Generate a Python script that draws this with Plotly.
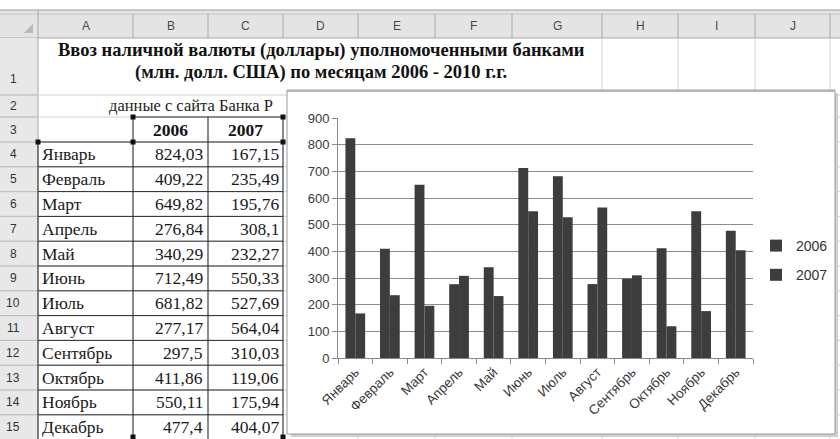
import plotly.graph_objects as go

# ---------------- data ----------------
months = ["Январь", "Февраль", "Март", "Апрель", "Май", "Июнь",
          "Июль", "Август", "Сентябрь", "Октябрь", "Ноябрь", "Декабрь"]
v2006 = [824.03, 409.22, 649.82, 276.84, 340.29, 712.49,
         681.82, 277.17, 297.5, 411.86, 550.11, 477.4]
v2007 = [167.15, 235.49, 195.76, 308.1, 232.27, 550.33,
         527.69, 564.04, 310.03, 119.06, 175.94, 404.07]
series_names = ["2006", "2007"]
col_letters = ["A", "B", "C", "D", "E", "F", "G", "H", "I", "J"]
title_lines = ["Ввоз наличной валюты (доллары) уполномоченными банками",
               "(млн. долл. США) по месяцам 2006 - 2010 г.г."]
source_text = "данные с сайта Банка Р"

# ---------------- layout geometry (pixels) ----------------
W, H = 840, 439
col_edges = [38, 133, 208, 283, 358, 435, 512, 602, 678, 755, 830]
row_edges = [38, 95, 117, 142] + [142 + 24.8 * k for k in range(1, 13)]
HDR_TOP, HDR_BOT = 10, 38


def px(x):
    return x / W


def py(y):
    return 1 - y / H


shapes = []
annotations = []


def rect(x0, y0, x1, y1, fill, line=None, lw=0):
    shapes.append(dict(type="rect", xref="paper", yref="paper",
                       x0=px(x0), x1=px(x1), y0=py(y0), y1=py(y1),
                       fillcolor=fill, layer="below",
                       line=dict(color=line or fill, width=lw)))


def line(x0, y0, x1, y1, color, lw=1):
    shapes.append(dict(type="line", xref="paper", yref="paper",
                       x0=px(x0), x1=px(x1), y0=py(y0), y1=py(y1),
                       layer="below", line=dict(color=color, width=lw)))


def text(x, y, s, size=12, color="#222", family="Liberation Serif", anchor="center"):
    annotations.append(dict(xref="paper", yref="paper", x=px(x), y=py(y),
                            text=s, showarrow=False, xanchor=anchor, yanchor="middle",
                            font=dict(size=size, color=color, family=family)))


GRID = "#d2d2d2"
HDRLINE = "#a8a8a8"
DARK = "#2a2a2a"

# header row & row-number column
rect(0, HDR_TOP, W, HDR_BOT, "#e4e4e4")
line(0, HDR_TOP, W, HDR_TOP, "#9a9a9a")
line(0, HDR_TOP + 4, W, HDR_TOP + 4, "#c4c4c4")
line(0, HDR_BOT, W, HDR_BOT, HDRLINE)
rect(0, HDR_BOT, col_edges[0], H, "#e8e8e8")
line(col_edges[0], HDR_TOP, col_edges[0], H, HDRLINE)
for xe in col_edges[1:]:
    line(xe, HDR_TOP + 4, xe, HDR_BOT, HDRLINE)
# corner triangle
shapes.append(dict(type="path", xref="paper", yref="paper", layer="below",
                   path=f"M {px(33)},{py(24)} L {px(33)},{py(33)} L {px(24)},{py(33)} Z",
                   fillcolor="#b8b8b8", line=dict(width=0)))

# cell gridlines
for ye in row_edges[1:]:
    line(0, ye, W, ye, GRID)
for xe in col_edges[1:]:
    # rows 1-2 are merged across A:G
    y_start = HDR_BOT if xe > 512 else row_edges[2]
    line(xe, y_start, xe, H, GRID)
for ye in row_edges[1:]:
    line(0, ye, col_edges[0], ye, "#bdbdbd")

# table borders A3:C15
for ye in row_edges[3:]:
    line(col_edges[0], ye, col_edges[3], ye, DARK)
line(col_edges[1], row_edges[2], col_edges[3], row_edges[2], DARK)
line(col_edges[0], row_edges[3], col_edges[0], H, DARK)
for xe in col_edges[1:4]:
    line(xe, row_edges[2], xe, H, DARK)
for (hx, hy) in [(133, 117), (283, 117), (133, 142), (283, 142), (38, 142), (133, 437), (283, 437)]:
    rect(hx - 2.5, hy - 2.5, hx + 2.5, hy + 2.5, "#111")

# header letters & row numbers
for i, letter in enumerate(col_letters):
    text((col_edges[i] + col_edges[i + 1]) / 2, 26, letter, size=12,
         color="#4a4a4a", family="Liberation Sans")
for r in range(1, 16):
    y0, y1 = row_edges[r - 1], row_edges[r]
    yc = (y0 + y1) / 2 + (12 if r == 1 else 0)
    text(13, yc, str(r), size=12, color="#333", family="Liberation Sans")

# sheet texts
CELL = 17.5
text(321, 50, "<b>" + title_lines[0] + "</b>", size=18.5, color="#111")
text(321, 73, "<b>" + title_lines[1] + "</b>", size=18.5, color="#111")
text(107, 106, source_text, size=16.5, color="#222", anchor="left")
text(170, 130, "<b>" + series_names[0] + "</b>", size=CELL, color="#111")
text(245, 130, "<b>" + series_names[1] + "</b>", size=CELL, color="#111")
for i, m in enumerate(months):
    yc = (row_edges[3 + i] + row_edges[4 + i]) / 2
    text(40, yc, m, size=CELL, color="#1a1a1a", anchor="left")
    text(205, yc, str(v2006[i]).replace(".", ","), size=CELL, color="#1a1a1a", anchor="right")
    text(281, yc, str(v2007[i]).replace(".", ","), size=CELL, color="#1a1a1a", anchor="right")

# chart frame
rect(291, 93, 838, 437, "#d0d0d0")
rect(287, 90, 835, 434, "#ffffff", line="#9a9a9a", lw=1)
line(287, 91, 835, 91, "#b5b5b5", 2)

# ---------------- chart ----------------
BAR = "#3d3d3d"
fig = go.Figure()
for name, vals in zip(series_names, [v2006, v2007]):
    fig.add_trace(go.Bar(x=months, y=vals, name=name, legendgroup=name,
                         marker=dict(color=BAR, line=dict(width=0))))

fig.update_layout(
    width=W, height=H,
    margin=dict(l=0, r=0, t=0, b=0, autoexpand=False),
    paper_bgcolor="white", plot_bgcolor="rgba(0,0,0,0)",
    barmode="group", bargap=0.43, bargroupgap=0,
    shapes=shapes, annotations=annotations,
    showlegend=True,
    legend=dict(x=px(756), y=py(230), xanchor="left", yanchor="top",
                bgcolor="rgba(0,0,0,0)", font=dict(family="Liberation Sans", size=14, color="#333"),
                tracegroupgap=8, itemwidth=30),
    xaxis=dict(domain=[px(338), px(753)], showline=True, linecolor="#8a8a8a",
               ticks="outside", tickson="boundaries", ticklen=5, tickcolor="#8a8a8a",
               tickangle=-45, tickfont=dict(family="Liberation Sans", size=13.5, color="#3a3a3a"),
               showgrid=False, fixedrange=True),
    yaxis=dict(domain=[py(358), py(118)], range=[0, 900], dtick=100,
               showgrid=True, gridcolor="#8c8c8c", gridwidth=1,
               showline=True, linecolor="#8a8a8a", ticks="outside", ticklen=5,
               tickcolor="#8a8a8a", zeroline=False,
               tickfont=dict(family="Liberation Sans", size=13, color="#3a3a3a"),
               fixedrange=True),
)

fig.write_html("out.html", config={"displayModeBar": False},
               post_script="document.body.style.margin='0';document.body.style.overflow='hidden';")
